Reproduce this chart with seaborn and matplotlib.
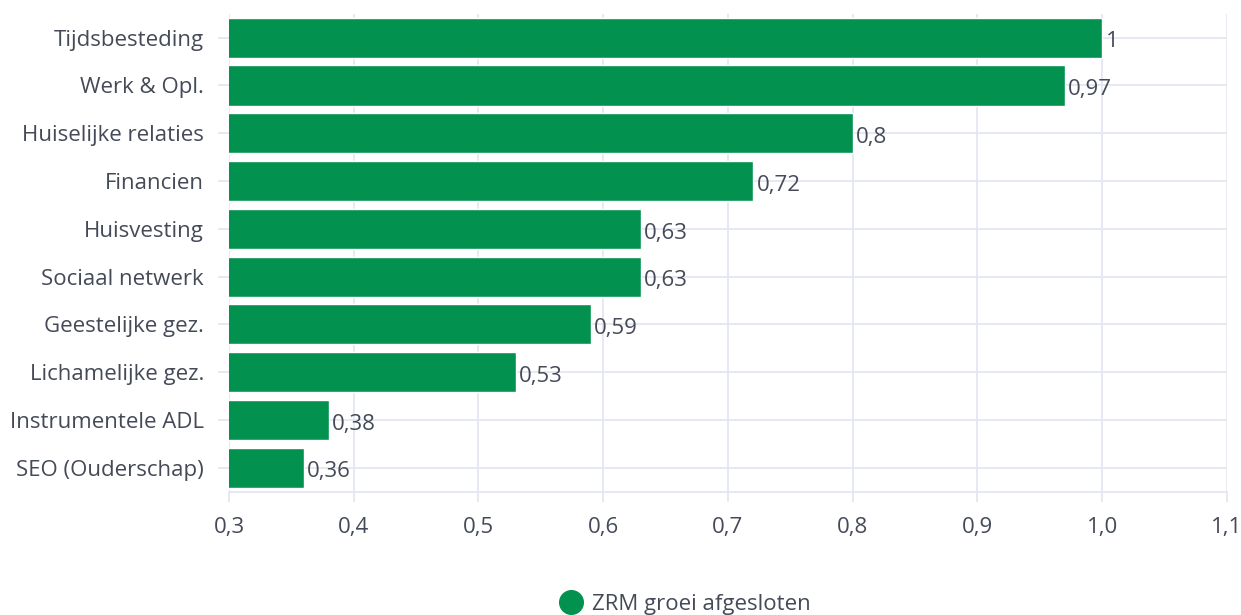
import pandas as pd
import seaborn as sns
import matplotlib.pyplot as plt
from matplotlib.lines import Line2D

categories = ["Tijdsbesteding", "Werk & Opl.", "Huiselijke relaties", "Financien",
              "Huisvesting", "Sociaal netwerk", "Geestelijke gez.", "Lichamelijke gez.",
              "Instrumentele ADL", "SEO (Ouderschap)"]
values = [1.0, 0.97, 0.8, 0.72, 0.63, 0.63, 0.59, 0.53, 0.38, 0.36]
x_ticks = [0.3, 0.4, 0.5, 0.6, 0.7, 0.8, 0.9, 1.0, 1.1]
series_name = "ZRM groei afgesloten"

GREEN = "#03914f"
GRID = "#e4e7f2"
TEXT = "#444a57"
FS = 16

sns.set_theme(style="white")
plt.rcParams['font.family'] = ['Open Sans', 'DejaVu Sans']

df = pd.DataFrame({"Categorie": categories, "Waarde": values})

fig = plt.figure(figsize=(12.41, 6.15), dpi=100)
ax = fig.add_axes([0.1845, 0.2005, 0.9887 - 0.1845, 0.9776 - 0.2005])

sns.barplot(data=df, y="Categorie", x="Waarde", color=GREEN, saturation=1,
            width=0.84, orient="h", ax=ax)

ax.set_xlim(0.3, 1.1)
ax.set_ylim(len(categories) - 0.5, -0.5)
ax.set_xticks(x_ticks)
ax.set_xticklabels([f"{t:.1f}".replace(".", ",") for t in x_ticks])
ax.set_xlabel("")
ax.set_ylabel("")

ax.set_axisbelow(True)
ax.grid(True, axis="both", color=GRID, linewidth=1.3)
for side in ["top", "right", "left"]:
    ax.spines[side].set_visible(False)
ax.spines["bottom"].set_color(GRID)
ax.spines["bottom"].set_linewidth(1.3)

ax.tick_params(axis="x", length=7, width=1.3, color=GRID, pad=11,
               labelsize=FS, labelcolor=TEXT, bottom=True)
ax.tick_params(axis="y", length=8, width=1.3, color=GRID, pad=10,
               labelsize=FS, labelcolor=TEXT, left=True)

for i, v in enumerate(values):
    lbl = f"{v:g}".replace(".", ",")
    ax.annotate(lbl, (v, i), xytext=(2.5, -3), textcoords="offset points",
                ha="left", va="center", fontsize=FS, color=TEXT)

handle = Line2D([], [], marker="o", linestyle="", markersize=17,
                markerfacecolor=GREEN, markeredgecolor=GREEN)
fig.legend([handle], [series_name], loc="center", bbox_to_anchor=(0.552, 0.017),
           frameon=False, fontsize=FS, labelcolor=TEXT, handletextpad=0.4,
           handlelength=1.1)

plt.savefig("out.png", dpi=100)
plt.close()
